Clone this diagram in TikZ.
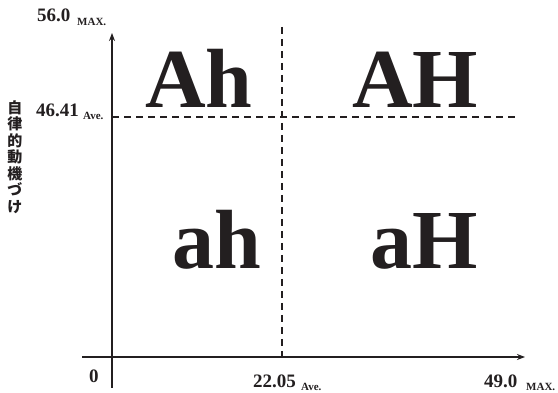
\documentclass[tikz,border=0pt]{standalone}
\usepackage{fontspec}
\setmainfont{Liberation Serif}
\newfontfamily\cjk{Noto Sans CJK JP}
\usetikzlibrary{arrows.meta}
\definecolor{ink}{HTML}{231F20}
\begin{document}
\begin{tikzpicture}[x=1pt,y=-1pt,
  axis/.style={draw=ink,line width=1.8pt,-{Stealth[length=8pt,width=6pt]}},
  avg/.style={draw=ink,line width=1.8pt,dash pattern=on 7pt off 5pt},
  big/.style={inner sep=0pt,anchor=base west,font=\fontsize{84}{84}\selectfont\bfseries,text=ink},
  num/.style={inner sep=0pt,anchor=base west,font=\fontsize{19}{19}\selectfont\bfseries,text=ink},
  tag/.style={inner sep=0pt,anchor=base west,font=\fontsize{11}{11}\selectfont\bfseries,text=ink}]
\useasboundingbox (0,0) rectangle (558,393);
\coordinate (yb) at (112,388);
\coordinate (yt) at (112,33);
\coordinate (xl) at (82,357);
\coordinate (xr) at (525,357);
\coordinate (hl) at (112,117);
\coordinate (hr) at (517,117);
\coordinate (vt) at (282,27);
\coordinate (vb) at (282,357);
\draw[axis] (yb) -- (yt);
\draw[axis] (xl) -- (xr);
\draw[avg] (hl) -- (hr);
\draw[avg] (vt) -- (vb);
\node[big] (Ah) at (145,108) {Ah};
\node[big] (AH) at (352,108) {AH};
\node[big] (ah) at (172,269) {ah};
\node[big] (aH) at (370,269) {aH};
\node[num] (ymax) at (37,22) {56.0};
\node[tag] (ymaxt) at (77,26) {MAX.};
\node[num] (yavg) at (36,117) {46.41};
\node[tag] (yavgt) at (83,120) {Ave.};
\node[num] (zero) at (89,383) {0};
\node[num] (xavg) at (253,388) {22.05};
\node[tag] (xavgt) at (301,391) {Ave.};
\node[num] (xmax) at (484,388) {49.0};
\node[tag] (xmaxt) at (526,391) {MAX.};
\node[inner sep=0pt,align=center,text=ink,font=\cjk\bfseries\fontsize{15}{16.5}\selectfont] (ylab) at (15,157) {自\\律\\的\\動\\機\\づ\\け};
\end{tikzpicture}
\end{document}
